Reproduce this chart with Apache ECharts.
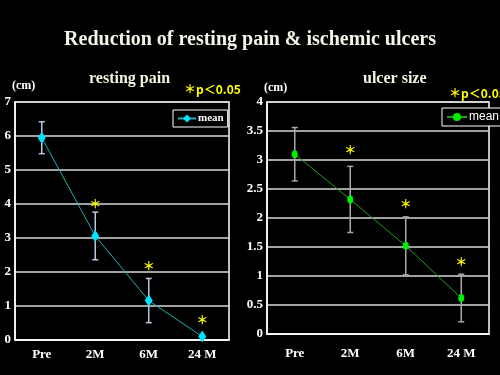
<!DOCTYPE html>
<html>
<head>
<meta charset="utf-8">
<script src="https://cdn.jsdelivr.net/npm/echarts@6/dist/echarts.min.js"></script>
<style>
  html, body { margin: 0; padding: 0; background: #000; }
  #chart { width: 500px; height: 375px; }
</style>
</head>
<body>
<div id="chart"></div>
<script>
var categories = ["Pre", "2M", "6M", "24 M"];

// resting pain (cm)
var painMean = [5.95, 3.06, 1.16, 0.1];
var painSd = [0.47, 0.70, 0.65, 0];
var painStar = [null, 3.99, 2.16, 0.57];

// ulcer size (cm)
var ulcerMean = [3.10, 2.32, 1.52, 0.62];
var ulcerSd = [0.46, 0.57, 0.50, 0.41];
var ulcerStar = [null, 3.16, 2.24, 1.23];

var serif = "Liberation Serif";

function errData(mean, sd) {
  var out = [];
  for (var i = 0; i < mean.length; i++) {
    if (sd[i] > 0) out.push([i, mean[i] - sd[i], mean[i] + sd[i]]);
  }
  return out;
}

function starData(arr) {
  var out = [];
  arr.forEach(function (v, i) { if (v != null) out.push([i, v]); });
  return out;
}

function errRender(color) {
  return function (params, api) {
    var lo = api.coord([api.value(0), api.value(1)]);
    var hi = api.coord([api.value(0), api.value(2)]);
    var w = 3;
    var st = { stroke: color, lineWidth: 1.5 };
    return {
      type: "group",
      children: [
        { type: "line", shape: { x1: lo[0], y1: lo[1], x2: hi[0], y2: hi[1] }, style: st },
        { type: "line", shape: { x1: lo[0] - w, y1: lo[1], x2: lo[0] + w, y2: lo[1] }, style: st },
        { type: "line", shape: { x1: hi[0] - w, y1: hi[1], x2: hi[0] + w, y2: hi[1] }, style: st }
      ]
    };
  };
}

function starRender(params, api) {
  var p = api.coord([api.value(0), api.value(1)]);
  return {
    type: "text",
    x: p[0], y: p[1],
    style: {
      text: "＊", fill: "#ffff00", align: "center", verticalAlign: "middle",
      font: "bold 12px 'Noto Sans CJK JP'"
    }
  };
}

var chart = echarts.init(document.getElementById("chart"));

var xAxisBase = {
  type: "category",
  data: categories,
  boundaryGap: true,
  axisLine: { lineStyle: { color: "#fff", width: 1.5 } },
  axisTick: { inside: true, length: 5, lineStyle: { color: "#fff" } },
  axisLabel: { color: "#fff", fontFamily: serif, fontWeight: "bold", fontSize: 13 },
  splitLine: { show: false }
};

var yAxisBase = {
  type: "value",
  min: 0,
  axisLine: { show: true, lineStyle: { color: "#fff", width: 1.5 } },
  axisTick: { show: false },
  axisLabel: { color: "#fff", fontFamily: serif, fontWeight: "bold", fontSize: 13, margin: 4 },
  splitLine: { lineStyle: { color: "#d8d8d8", width: 1.5 } }
};

chart.setOption({
  backgroundColor: "#000",
  animation: false,
  title: [
    { text: "Reduction of resting pain & ischemic ulcers", left: "center", top: 25,
      textStyle: { color: "#f4f4e8", fontFamily: serif, fontWeight: "bold", fontSize: 20 } },
    { text: "resting pain", left: 84, top: 66,
      textStyle: { color: "#f4f4e0", fontFamily: serif, fontWeight: "bold", fontSize: 16 } },
    { text: "ulcer size", left: 358, top: 66,
      textStyle: { color: "#f4f4e0", fontFamily: serif, fontWeight: "bold", fontSize: 16 } },
    { text: "(cm)", left: 7, top: 75,
      textStyle: { color: "#fff", fontFamily: serif, fontWeight: "bold", fontSize: 12 } },
    { text: "(cm)", left: 259, top: 77,
      textStyle: { color: "#fff", fontFamily: serif, fontWeight: "bold", fontSize: 12 } },
    { text: "＊p＜0.05", left: 179, top: 78,
      textStyle: { color: "#ffff00", fontFamily: "Noto Sans CJK JP", fontWeight: "bold", fontSize: 12 } },
    { text: "＊p＜0.05", left: 444, top: 82,
      textStyle: { color: "#ffff00", fontFamily: "Noto Sans CJK JP", fontWeight: "bold", fontSize: 12 } }
  ],
  legend: [
    { data: ["pain"], left: 173, top: 110, padding: [3, 4], itemGap: 2,
      backgroundColor: "#000", borderColor: "#fff", borderWidth: 1, borderRadius: 0,
      itemWidth: 18, itemHeight: 10,
      formatter: function () { return "mean"; },
      textStyle: { color: "#fff", fontFamily: serif, fontWeight: "bold", fontSize: 11, padding: [0, 0, 0, -3] } },
    { data: ["ulcer"], left: 442, top: 108, padding: [3, 4], itemGap: 2,
      backgroundColor: "#000", borderColor: "#fff", borderWidth: 1, borderRadius: 0,
      itemWidth: 20, itemHeight: 10,
      formatter: function () { return "mean"; },
      textStyle: { color: "#fff", fontFamily: "Liberation Sans", fontSize: 12, padding: [0, 0, 0, -3] } }
  ],
  grid: [
    { left: 15, top: 102, width: 214, height: 238, show: true, borderColor: "#fff", borderWidth: 1.5, backgroundColor: "transparent" },
    { left: 267, top: 102, width: 222, height: 232, show: true, borderColor: "#fff", borderWidth: 1.5, backgroundColor: "transparent" }
  ],
  xAxis: [
    Object.assign({}, xAxisBase, { gridIndex: 0, axisLabel: Object.assign({}, xAxisBase.axisLabel, { margin: 8 }) }),
    Object.assign({}, xAxisBase, { gridIndex: 1, axisLabel: Object.assign({}, xAxisBase.axisLabel, { margin: 13 }) })
  ],
  yAxis: [
    Object.assign({}, yAxisBase, { gridIndex: 0, max: 7, interval: 1 }),
    Object.assign({}, yAxisBase, { gridIndex: 1, max: 4, interval: 0.5 })
  ],
  series: [
    { type: "custom", xAxisIndex: 0, yAxisIndex: 0, data: errData(painMean, painSd),
      renderItem: errRender("#b8c8e0"), z: 2 },
    { name: "pain", type: "line", xAxisIndex: 0, yAxisIndex: 0, data: painMean,
      symbol: "diamond", symbolSize: [8, 12],
      lineStyle: { color: "#20b2aa", width: 1 },
      itemStyle: { color: "#00e5ff" }, z: 3 },
    { type: "custom", xAxisIndex: 0, yAxisIndex: 0, data: starData(painStar), renderItem: starRender },
    { type: "custom", xAxisIndex: 1, yAxisIndex: 1, data: errData(ulcerMean, ulcerSd),
      renderItem: errRender("#a8a8a8"), z: 2 },
    { name: "ulcer", type: "line", xAxisIndex: 1, yAxisIndex: 1, data: ulcerMean,
      symbol: "circle", symbolSize: [6, 8],
      lineStyle: { color: "#1fa01f", width: 1 },
      itemStyle: { color: "#00ee00" }, z: 3 },
    { type: "custom", xAxisIndex: 1, yAxisIndex: 1, data: starData(ulcerStar), renderItem: starRender }
  ]
});
</script>
</body>
</html>
